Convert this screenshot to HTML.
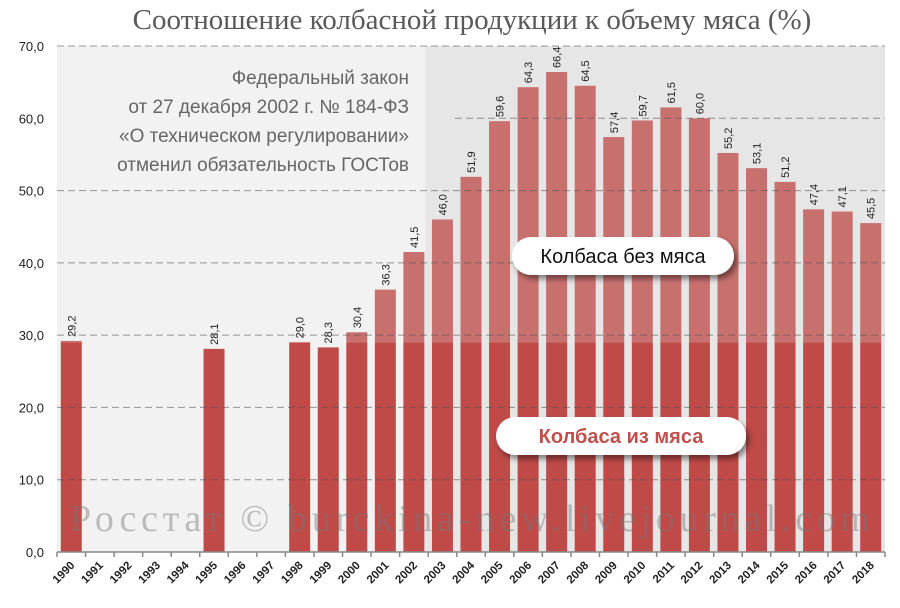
<!DOCTYPE html>
<html><head><meta charset="utf-8"><style>
body{margin:0;background:#fff}
svg{display:block;font-family:"Liberation Sans","DejaVu Sans",sans-serif}
</style></head><body>
<svg id="chart" width="900" height="608" viewBox="0 0 900 608" xmlns="http://www.w3.org/2000/svg">
<rect x="0" y="0" width="900" height="608" fill="#fff"/>
<text x="472" y="29" text-anchor="middle" font-family="'Liberation Serif',serif" font-size="29" fill="#595959">Соотношение колбасной продукции к объему мяса (%)</text>
<g id="plot"></g>
</svg>
<script>
const years=[1990,1991,1992,1993,1994,1995,1996,1997,1998,1999,2000,2001,2002,2003,2004,2005,2006,2007,2008,2009,2010,2011,2012,2013,2014,2015,2016,2017,2018];
const totalValues=[29.2,null,null,null,null,28.1,null,null,29.0,28.3,30.4,36.3,41.5,46.0,51.9,59.6,64.3,66.4,64.5,57.4,59.7,61.5,60.0,55.2,53.1,51.2,47.4,47.1,45.5];
const meatBase=29.0;
const yTicks=[0,10,20,30,40,50,60,70];
const yTickLabels=["0,0","10,0","20,0","30,0","40,0","50,0","60,0","70,0"];

const NS="http://www.w3.org/2000/svg";
const g=document.getElementById('plot');
const L=57,R=885,T=46,B=552,YMAX=70;
const bw=(R-L)/years.length;
const y=v=>B-(v/YMAX)*(B-T);
const x=i=>L+bw*i+bw/2;
function mk(t,a,p){const e=document.createElementNS(NS,t);for(const k in a)e.setAttribute(k,a[k]);(p||g).appendChild(e);return e;}
const fmt=v=>v.toFixed(1).replace('.',',');

// backgrounds
let e=mk('rect',{x:L,y:T,width:L+bw*13-L-3,height:B-T,fill:'#f2f2f2'});


e=mk('rect',{x:L+bw*13-3,y:T,width:R-(L+bw*13-3),height:B-T,fill:'#e6e6e6'});



// bars
years.forEach((yr,i)=>{
  const v=totalValues[i]; if(v==null) return;
  const bx=x(i)-10.5;
  if(v>meatBase){
    const r1=mk('rect',{x:bx,y:y(v),width:21,height:y(meatBase)-y(v),fill:'#c8706e'});
    
    
  }
  const base=Math.min(v,meatBase);
  const r2=mk('rect',{x:bx,y:y(base),width:21,height:B-y(base),fill:'#bf4a48'});
  
  
  const tx=x(i)+4, ty=y(v)-4;
  const t=mk('text',{x:tx,y:ty,transform:`rotate(-90 ${tx} ${ty})`,'font-size':11,fill:'#222'});
  t.textContent=fmt(v);
  
  
});

// grid + y labels
yTicks.forEach((v,i)=>{
  if(v>0){
    const x1=(v===60)?455:L;
    const ln=mk('line',{x1:x1,x2:R,y1:y(v),y2:y(v),stroke:'#555','stroke-opacity':0.6,'stroke-dasharray':'7,4','stroke-width':1});
    
    
  }
  const t=mk('text',{x:44,y:y(v)+5,'text-anchor':'end','font-size':13,fill:'#222'});
  t.textContent=yTickLabels[i];
  
  
});

// axis
e=mk('line',{x1:L,x2:R,y1:B,y2:B,stroke:'#888','stroke-width':1.5});


for(let i=0;i<=years.length;i++){
  const tk=mk('line',{x1:L+bw*i,x2:L+bw*i,y1:B,y2:B+5,stroke:'#888','stroke-width':1.5});
  
  
}
years.forEach((yr,i)=>{
  const tx=x(i)+4, ty=B+14;
  const t=mk('text',{x:tx,y:ty,'text-anchor':'end',transform:`rotate(-45 ${tx} ${ty})`,'font-size':11.5,'font-weight':'bold',fill:'#222'});
  t.textContent=yr;
  
  
});

// annotation
const ann=["Федеральный закон","от 27 декабря 2002 г. № 184-ФЗ","«О техническом регулировании»","отменил обязательность  ГОСТов"];
ann.forEach((s,i)=>{
  const t=mk('text',{x:409,y:84+i*29,'text-anchor':'end','font-size':19,fill:'#666'});
  t.textContent=s;
  
  
});

// defs shadow
const defs=mk('defs',{});
const f=mk('filter',{id:'sh',x:'-20%',y:'-30%',width:'140%',height:'170%'},defs);
mk('feDropShadow',{dx:3,dy:4,stdDeviation:3,'flood-color':'#000','flood-opacity':0.45},f);

function label(cx,cy,w,txt,color,bold,name){
  const r=mk('rect',{x:cx-w/2,y:cy-19,width:w,height:38,rx:19,fill:'#fff',filter:'url(#sh)'});
  
  
  const t=mk('text',{x:cx,y:cy+7,'text-anchor':'middle','font-size':20,fill:color,'font-weight':bold?'bold':'normal'});
  t.textContent=txt;
  
  
}
label(623,256,222,'Колбаса без мяса','#111',false,'label-no-meat');
label(621,436,250,'Колбаса из мяса','#c0504d',true,'label-meat');

// watermark
e=mk('text',{x:470,y:531,'text-anchor':'middle','font-family':"'Liberation Serif',serif",'font-size':38,fill:'#777','fill-opacity':0.45,textLength:800});
e.textContent='Росстат © burckina-new.livejournal.com';


</script>
</body></html>
